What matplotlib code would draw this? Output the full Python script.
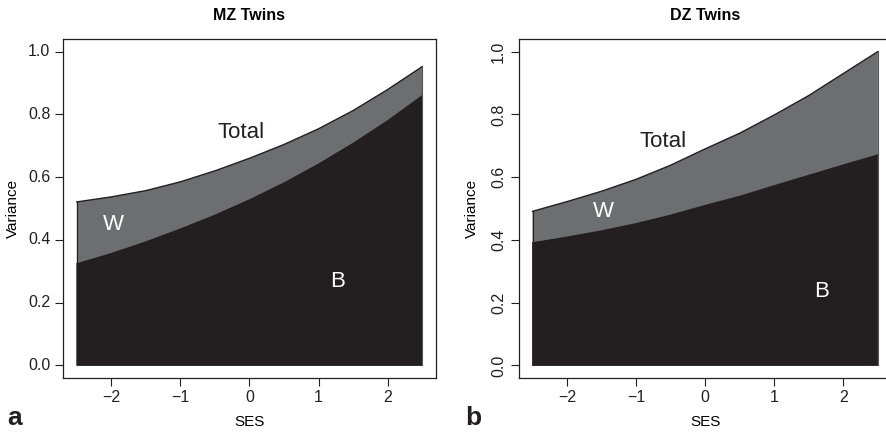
import numpy as np
import matplotlib
matplotlib.use("Agg")
import matplotlib.pyplot as plt

plt.rcParams['font.family'] = ['Liberation Sans', 'DejaVu Sans']

# SES grid and variance curves
ses = [-2.5, -2.0, -1.5, -1.0, -0.5, 0.0, 0.5, 1.0, 1.5, 2.0, 2.5]

mz_total = [0.521, 0.537, 0.557, 0.585, 0.620, 0.660, 0.704, 0.754, 0.812, 0.879, 0.952]
mz_between = [0.326, 0.359, 0.396, 0.437, 0.481, 0.530, 0.584, 0.644, 0.710, 0.782, 0.862]

dz_total = [0.491, 0.522, 0.555, 0.593, 0.638, 0.690, 0.740, 0.798, 0.860, 0.930, 1.000]
dz_between = [0.393, 0.411, 0.431, 0.454, 0.481, 0.512, 0.541, 0.575, 0.608, 0.641, 0.673]

titles = ["MZ Twins", "DZ Twins"]
panel_letters = ["a", "b"]
yticks = [0.0, 0.2, 0.4, 0.6, 0.8, 1.0]
xticks = [-2, -1, 0, 1, 2]

dark = "#231f20"
grey = "#6d6e70"

fig = plt.figure(figsize=(8.87, 4.33), dpi=100)
W, H = 887, 433
ax1 = fig.add_axes([63 / W, (H - 378) / H, 373 / W, 339 / H])
ax2 = fig.add_axes([518.7 / W, (H - 378) / H, 373 / W, 339 / H])


def panel(ax, total, between, title, labels, rot_y):
    x = np.array(ses)
    t = np.array(total)
    b = np.array(between)
    # B region (black)
    ax.fill(np.r_[x, x[::-1]], np.r_[b, np.zeros_like(b)], color=dark,
            edgecolor=dark, linewidth=0.6)
    # W region (grey)
    ax.fill(np.r_[x, x[::-1]], np.r_[t, b[::-1]], color=grey,
            edgecolor="none")
    ax.plot(x, t, color=dark, lw=1.0)
    ax.plot([x[0], x[0]], [0, t[0]], color=dark, lw=0.8)
    ax.plot([x[-1], x[-1]], [0, t[-1]], color="#555555", lw=0.8)

    ax.set_xlim(-2.7, 2.7)
    ax.set_ylim(-0.04, 1.04)
    ax.set_xticks(xticks)
    ax.set_yticks(yticks)
    ax.set_yticklabels(["%.1f" % v for v in yticks],
                       rotation=90 if rot_y else 0,
                       va="center")
    ax.tick_params(direction="out", length=6, width=0.8, labelsize=11.5,
                   pad=3, colors="#231f20")
    for s in ax.spines.values():
        s.set_linewidth(0.9)
        s.set_color("#231f20")
    ax.set_xlabel("SES", fontsize=11, labelpad=7)
    ax.set_ylabel("Variance", fontsize=11, labelpad=9 if rot_y else 6)
    ax.set_title(title, fontsize=11.5, fontweight="bold", pad=14)

    (tx, ty), (wx, wy), (bx, by) = labels
    ax.text(tx, ty, "Total", fontsize=16, color=dark, ha="center", va="center")
    ax.text(wx, wy, "W", fontsize=16, color="white", ha="center", va="center")
    ax.text(bx, by, "B", fontsize=16, color="white", ha="center", va="center")


panel(ax1, mz_total, mz_between, titles[0],
      [(-0.12, 0.743), (-1.97, 0.449), (1.27, 0.268)], False)
panel(ax2, dz_total, dz_between, titles[1],
      [(-0.61, 0.712), (-1.48, 0.491), (1.68, 0.237)], True)

fig.text(7 / W, 1 - 425 / H, panel_letters[0], fontsize=19, fontweight="bold",
         color=dark, ha="left", va="baseline")
fig.text(465 / W, 1 - 425 / H, panel_letters[1], fontsize=19, fontweight="bold",
         color=dark, ha="left", va="baseline")

fig.savefig("out.png", dpi=100)
